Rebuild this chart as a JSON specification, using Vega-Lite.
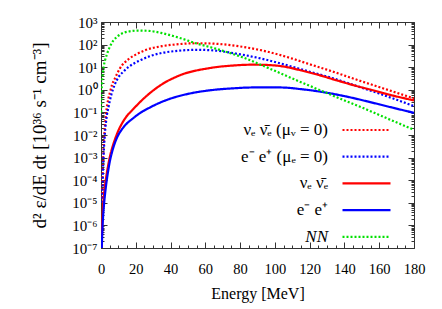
{
  "$schema": "https://vega.github.io/schema/vega-lite/v6.json",
  "width": 313,
  "height": 226,
  "autosize": {"type": "none"},
  "padding": {"left": 101, "top": 22, "right": 28, "bottom": 61},
  "background": "white",
  "config": {
    "view": {"stroke": "#333", "strokeWidth": 1},
    "font": "Liberation Serif",
    "axis": {"labelFont": "Liberation Serif", "titleFont": "Liberation Serif", "labelFontSize": 14.5, "titleFontSize": 16, "titleFontWeight": "normal", "labelColor": "black", "titleColor": "black", "tickColor": "#333", "domain": false, "grid": false, "labelOverlap": false, "labelFlush": false}
  },
  "data": {"values": [
    {"s": "νₑ ν̄ₑ (μᵥ = 0)", "E": 0.7, "v": 1.6e-5},
    {"s": "νₑ ν̄ₑ (μᵥ = 0)", "E": 1, "v": 2.5e-4},
    {"s": "νₑ ν̄ₑ (μᵥ = 0)", "E": 1.5, "v": 2.5e-3},
    {"s": "νₑ ν̄ₑ (μᵥ = 0)", "E": 2, "v": 0.0126},
    {"s": "νₑ ν̄ₑ (μᵥ = 0)", "E": 3, "v": 0.1},
    {"s": "νₑ ν̄ₑ (μᵥ = 0)", "E": 4.2, "v": 0.4},
    {"s": "νₑ ν̄ₑ (μᵥ = 0)", "E": 5.2, "v": 0.8},
    {"s": "νₑ ν̄ₑ (μᵥ = 0)", "E": 6.5, "v": 1.8},
    {"s": "νₑ ν̄ₑ (μᵥ = 0)", "E": 8, "v": 3.2},
    {"s": "νₑ ν̄ₑ (μᵥ = 0)", "E": 10.9, "v": 8.9},
    {"s": "νₑ ν̄ₑ (μᵥ = 0)", "E": 15.7, "v": 22.4},
    {"s": "νₑ ν̄ₑ (μᵥ = 0)", "E": 20, "v": 36},
    {"s": "νₑ ν̄ₑ (μᵥ = 0)", "E": 25, "v": 55},
    {"s": "νₑ ν̄ₑ (μᵥ = 0)", "E": 35, "v": 85},
    {"s": "νₑ ν̄ₑ (μᵥ = 0)", "E": 45, "v": 105},
    {"s": "νₑ ν̄ₑ (μᵥ = 0)", "E": 55, "v": 115},
    {"s": "νₑ ν̄ₑ (μᵥ = 0)", "E": 65, "v": 110},
    {"s": "νₑ ν̄ₑ (μᵥ = 0)", "E": 80, "v": 83},
    {"s": "νₑ ν̄ₑ (μᵥ = 0)", "E": 95, "v": 50},
    {"s": "νₑ ν̄ₑ (μᵥ = 0)", "E": 110, "v": 24},
    {"s": "νₑ ν̄ₑ (μᵥ = 0)", "E": 120, "v": 13.5},
    {"s": "νₑ ν̄ₑ (μᵥ = 0)", "E": 133, "v": 6.5},
    {"s": "νₑ ν̄ₑ (μᵥ = 0)", "E": 145, "v": 3.16},
    {"s": "νₑ ν̄ₑ (μᵥ = 0)", "E": 160, "v": 1.32},
    {"s": "νₑ ν̄ₑ (μᵥ = 0)", "E": 170, "v": 0.74},
    {"s": "νₑ ν̄ₑ (μᵥ = 0)", "E": 180, "v": 0.417},

    {"s": "e⁻ e⁺ (μₑ = 0)", "E": 0.8, "v": 1e-5},
    {"s": "e⁻ e⁺ (μₑ = 0)", "E": 1, "v": 1e-4},
    {"s": "e⁻ e⁺ (μₑ = 0)", "E": 1.5, "v": 1.26e-3},
    {"s": "e⁻ e⁺ (μₑ = 0)", "E": 2, "v": 6.3e-3},
    {"s": "e⁻ e⁺ (μₑ = 0)", "E": 3, "v": 0.045},
    {"s": "e⁻ e⁺ (μₑ = 0)", "E": 4.5, "v": 0.2},
    {"s": "e⁻ e⁺ (μₑ = 0)", "E": 6, "v": 0.63},
    {"s": "e⁻ e⁺ (μₑ = 0)", "E": 8, "v": 1.78},
    {"s": "e⁻ e⁺ (μₑ = 0)", "E": 10, "v": 3.55},
    {"s": "e⁻ e⁺ (μₑ = 0)", "E": 12.8, "v": 6.3},
    {"s": "e⁻ e⁺ (μₑ = 0)", "E": 15.7, "v": 10},
    {"s": "e⁻ e⁺ (μₑ = 0)", "E": 22.4, "v": 20},
    {"s": "e⁻ e⁺ (μₑ = 0)", "E": 28.2, "v": 30.9},
    {"s": "e⁻ e⁺ (μₑ = 0)", "E": 35, "v": 42.7},
    {"s": "e⁻ e⁺ (μₑ = 0)", "E": 45, "v": 53.7},
    {"s": "e⁻ e⁺ (μₑ = 0)", "E": 55, "v": 58.9},
    {"s": "e⁻ e⁺ (μₑ = 0)", "E": 65, "v": 55},
    {"s": "e⁻ e⁺ (μₑ = 0)", "E": 80, "v": 37.2},
    {"s": "e⁻ e⁺ (μₑ = 0)", "E": 95, "v": 21.4},
    {"s": "e⁻ e⁺ (μₑ = 0)", "E": 110, "v": 10.5},
    {"s": "e⁻ e⁺ (μₑ = 0)", "E": 120, "v": 6.3},
    {"s": "e⁻ e⁺ (μₑ = 0)", "E": 133, "v": 3.3},
    {"s": "e⁻ e⁺ (μₑ = 0)", "E": 145, "v": 1.66},
    {"s": "e⁻ e⁺ (μₑ = 0)", "E": 160, "v": 0.68},
    {"s": "e⁻ e⁺ (μₑ = 0)", "E": 170, "v": 0.363},
    {"s": "e⁻ e⁺ (μₑ = 0)", "E": 180, "v": 0.19},

    {"s": "νₑ ν̄ₑ", "E": 0.4, "v": 1e-7},
    {"s": "νₑ ν̄ₑ", "E": 0.7, "v": 1e-6},
    {"s": "νₑ ν̄ₑ", "E": 1.0, "v": 4e-6},
    {"s": "νₑ ν̄ₑ", "E": 1.5, "v": 1.4e-5},
    {"s": "νₑ ν̄ₑ", "E": 2, "v": 3.5e-5},
    {"s": "νₑ ν̄ₑ", "E": 3, "v": 1.4e-4},
    {"s": "νₑ ν̄ₑ", "E": 4, "v": 4e-4},
    {"s": "νₑ ν̄ₑ", "E": 5, "v": 1e-3},
    {"s": "νₑ ν̄ₑ", "E": 6.5, "v": 2.8e-3},
    {"s": "νₑ ν̄ₑ", "E": 8, "v": 6.3e-3},
    {"s": "νₑ ν̄ₑ", "E": 10, "v": 0.0158},
    {"s": "νₑ ν̄ₑ", "E": 12, "v": 0.0316},
    {"s": "νₑ ν̄ₑ", "E": 14, "v": 0.0562},
    {"s": "νₑ ν̄ₑ", "E": 18.6, "v": 0.141},
    {"s": "νₑ ν̄ₑ", "E": 23, "v": 0.316},
    {"s": "νₑ ν̄ₑ", "E": 28.2, "v": 0.724},
    {"s": "νₑ ν̄ₑ", "E": 33, "v": 1.38},
    {"s": "νₑ ν̄ₑ", "E": 37.8, "v": 2.34},
    {"s": "νₑ ν̄ₑ", "E": 42, "v": 3.39},
    {"s": "νₑ ν̄ₑ", "E": 47.3, "v": 5.0},
    {"s": "νₑ ν̄ₑ", "E": 54, "v": 6.92},
    {"s": "νₑ ν̄ₑ", "E": 60.8, "v": 8.71},
    {"s": "νₑ ν̄ₑ", "E": 68, "v": 10.5},
    {"s": "νₑ ν̄ₑ", "E": 75, "v": 11.7},
    {"s": "νₑ ν̄ₑ", "E": 86, "v": 12.9},
    {"s": "νₑ ν̄ₑ", "E": 95, "v": 12.6},
    {"s": "νₑ ν̄ₑ", "E": 105, "v": 10.7},
    {"s": "νₑ ν̄ₑ", "E": 115, "v": 7.24},
    {"s": "νₑ ν̄ₑ", "E": 125, "v": 4.57},
    {"s": "νₑ ν̄ₑ", "E": 135, "v": 2.69},
    {"s": "νₑ ν̄ₑ", "E": 145, "v": 1.62},
    {"s": "νₑ ν̄ₑ", "E": 155, "v": 1.02},
    {"s": "νₑ ν̄ₑ", "E": 165, "v": 0.631},
    {"s": "νₑ ν̄ₑ", "E": 180, "v": 0.339},

    {"s": "e⁻ e⁺", "E": 0.45, "v": 1e-7},
    {"s": "e⁻ e⁺", "E": 0.8, "v": 6.3e-7},
    {"s": "e⁻ e⁺", "E": 1.2, "v": 2.5e-6},
    {"s": "e⁻ e⁺", "E": 1.7, "v": 7.9e-6},
    {"s": "e⁻ e⁺", "E": 2.5, "v": 3.2e-5},
    {"s": "e⁻ e⁺", "E": 3.5, "v": 1.26e-4},
    {"s": "e⁻ e⁺", "E": 5, "v": 6.3e-4},
    {"s": "e⁻ e⁺", "E": 6.9, "v": 2.5e-3},
    {"s": "e⁻ e⁺", "E": 8, "v": 4.5e-3},
    {"s": "e⁻ e⁺", "E": 10, "v": 0.0102},
    {"s": "e⁻ e⁺", "E": 12, "v": 0.0178},
    {"s": "e⁻ e⁺", "E": 14, "v": 0.0275},
    {"s": "e⁻ e⁺", "E": 18.6, "v": 0.0562},
    {"s": "e⁻ e⁺", "E": 23, "v": 0.1},
    {"s": "e⁻ e⁺", "E": 28.2, "v": 0.166},
    {"s": "e⁻ e⁺", "E": 33, "v": 0.251},
    {"s": "e⁻ e⁺", "E": 37.8, "v": 0.355},
    {"s": "e⁻ e⁺", "E": 42, "v": 0.457},
    {"s": "e⁻ e⁺", "E": 47.3, "v": 0.589},
    {"s": "e⁻ e⁺", "E": 54, "v": 0.759},
    {"s": "e⁻ e⁺", "E": 60.8, "v": 0.912},
    {"s": "e⁻ e⁺", "E": 68, "v": 1.05},
    {"s": "e⁻ e⁺", "E": 75, "v": 1.15},
    {"s": "e⁻ e⁺", "E": 85, "v": 1.26},
    {"s": "e⁻ e⁺", "E": 95, "v": 1.29},
    {"s": "e⁻ e⁺", "E": 105, "v": 1.26},
    {"s": "e⁻ e⁺", "E": 115, "v": 1.07},
    {"s": "e⁻ e⁺", "E": 126, "v": 0.83},
    {"s": "e⁻ e⁺", "E": 140, "v": 0.525},
    {"s": "e⁻ e⁺", "E": 153, "v": 0.309},
    {"s": "e⁻ e⁺", "E": 165, "v": 0.182},
    {"s": "e⁻ e⁺", "E": 180, "v": 0.0955},

    {"s": "NN", "E": 0.1, "v": 0.1},
    {"s": "NN", "E": 0.3, "v": 0.63},
    {"s": "NN", "E": 0.6, "v": 2.24},
    {"s": "NN", "E": 1, "v": 5.0},
    {"s": "NN", "E": 1.6, "v": 11.2},
    {"s": "NN", "E": 2.3, "v": 20},
    {"s": "NN", "E": 3.3, "v": 35.5},
    {"s": "NN", "E": 4.5, "v": 63},
    {"s": "NN", "E": 5.5, "v": 93},
    {"s": "NN", "E": 7, "v": 148},
    {"s": "NN", "E": 9, "v": 214},
    {"s": "NN", "E": 12, "v": 309},
    {"s": "NN", "E": 16, "v": 380},
    {"s": "NN", "E": 21.5, "v": 417},
    {"s": "NN", "E": 27, "v": 407},
    {"s": "NN", "E": 35, "v": 324},
    {"s": "NN", "E": 45, "v": 200},
    {"s": "NN", "E": 55, "v": 112},
    {"s": "NN", "E": 66, "v": 66},
    {"s": "NN", "E": 76, "v": 38},
    {"s": "NN", "E": 81, "v": 28.2},
    {"s": "NN", "E": 86, "v": 20},
    {"s": "NN", "E": 92, "v": 12.6},
    {"s": "NN", "E": 100, "v": 6.9},
    {"s": "NN", "E": 114, "v": 2.34},
    {"s": "NN", "E": 127, "v": 0.89},
    {"s": "NN", "E": 140, "v": 0.339},
    {"s": "NN", "E": 153, "v": 0.132},
    {"s": "NN", "E": 165, "v": 0.0525},
    {"s": "NN", "E": 180, "v": 0.017}
  ]},
  "layer": [
    {
      "mark": {"type": "line", "strokeWidth": 2.2, "interpolate": "monotone", "clip": true},
      "encoding": {
        "x": {"field": "E", "type": "quantitative", "scale": {"domain": [0, 180], "nice": false},
          "axis": {"title": "Energy [MeV]", "orient": "bottom", "titlePadding": 7,
            "values": [0,5,10,15,20,25,30,35,40,45,50,55,60,65,70,75,80,85,90,95,100,105,110,115,120,125,130,135,140,145,150,155,160,165,170,175,180],
            "labelExpr": "datum.value % 20 == 0 ? datum.label : ''",
            "tickSize": {"condition": {"test": "datum.value % 20 == 0", "value": -6}, "value": -3},
            "labelPadding": 20}},
        "y": {"field": "v", "type": "quantitative", "scale": {"type": "log", "domain": [1e-7, 1000], "nice": false},
          "axis": {"title": "d² ε/dE dt [10³⁶ s⁻¹ cm⁻³]", "orient": "left", "titlePadding": 22, "titleFontSize": 19,
            "values": [1e-7,2e-7,3e-7,4e-7,5e-7,6e-7,7e-7,8e-7,9e-7,1e-6,2e-6,3e-6,4e-6,5e-6,6e-6,7e-6,8e-6,9e-6,1e-5,2e-5,3e-5,4e-5,5e-5,6e-5,7e-5,8e-5,9e-5,1e-4,2e-4,3e-4,4e-4,5e-4,6e-4,7e-4,8e-4,9e-4,1e-3,2e-3,3e-3,4e-3,5e-3,6e-3,7e-3,8e-3,9e-3,0.01,0.02,0.03,0.04,0.05,0.06,0.07,0.08,0.09,0.1,0.2,0.3,0.4,0.5,0.6,0.7,0.8,0.9,1,2,3,4,5,6,7,8,9,10,20,30,40,50,60,70,80,90,100,200,300,400,500,600,700,800,900,1000],
            "labelExpr": "abs(log(datum.value)/LN10 - round(log(datum.value)/LN10)) < 0.001 ? '10' + ['⁻⁷','⁻⁶','⁻⁵','⁻⁴','⁻³','⁻²','⁻¹','⁰','¹','²','³'][round(log(datum.value)/LN10)+7] : ''",
            "labelFontSize": 15,
            "tickSize": {"condition": {"test": "abs(log(datum.value)/LN10 - round(log(datum.value)/LN10)) < 0.001", "value": -6}, "value": -3},
            "labelPadding": 10}},
        "color": {"field": "s", "type": "nominal",
          "scale": {"domain": ["νₑ ν̄ₑ (μᵥ = 0)", "e⁻ e⁺ (μₑ = 0)", "νₑ ν̄ₑ", "e⁻ e⁺", "NN"], "range": ["#ff0000", "#0000ff", "#ff0000", "#0000ff", "#00e000"]},
          "legend": {"title": null, "orient": "none", "legendX": 240, "legendY": 100.5, "padding": 0,
            "symbolType": "stroke", "symbolSize": 2304, "symbolStrokeWidth": 2.2, "clipHeight": 15,
            "labelAlign": "right", "labelOffset": -64, "labelFont": "Liberation Serif", "labelFontSize": 17, "labelColor": "black", "labelLimit": 300,
            "rowPadding": 8.7,
            "encode": {"labels": {"update": {"fontStyle": {"signal": "datum.label == 'NN' ? 'italic' : 'normal'"}}},
                       "entries": {"update": {"width": {"value": 60}, "height": {"value": 15}}}}}},
        "strokeDash": {"field": "s", "type": "nominal",
          "scale": {"domain": ["νₑ ν̄ₑ (μᵥ = 0)", "e⁻ e⁺ (μₑ = 0)", "νₑ ν̄ₑ", "e⁻ e⁺", "NN"], "range": [[2, 2], [2, 2], [1, 0], [1, 0], [2, 2]]},
          "legend": {"title": null, "orient": "none", "legendX": 240, "legendY": 100.5, "padding": 0,
            "symbolType": "stroke", "symbolSize": 2304, "symbolStrokeWidth": 2.2, "clipHeight": 15,
            "labelAlign": "right", "labelOffset": -64, "labelFont": "Liberation Serif", "labelFontSize": 17, "labelColor": "black", "labelLimit": 300,
            "rowPadding": 8.7,
            "encode": {"labels": {"update": {"fontStyle": {"signal": "datum.label == 'NN' ? 'italic' : 'normal'"}}},
                       "entries": {"update": {"width": {"value": 60}, "height": {"value": 15}}}}}}
      }
    },
    {
      "mark": {"type": "line", "opacity": 0},
      "encoding": {
        "x": {"field": "E", "type": "quantitative",
          "axis": {"title": null, "orient": "top", "labels": false,
            "values": [0,5,10,15,20,25,30,35,40,45,50,55,60,65,70,75,80,85,90,95,100,105,110,115,120,125,130,135,140,145,150,155,160,165,170,175,180],
            "tickSize": {"condition": {"test": "datum.value % 20 == 0", "value": -6}, "value": -3}}},
        "y": {"field": "v", "type": "quantitative",
          "axis": {"title": null, "orient": "right", "labels": false,
            "values": [1e-7,2e-7,3e-7,4e-7,5e-7,6e-7,7e-7,8e-7,9e-7,1e-6,2e-6,3e-6,4e-6,5e-6,6e-6,7e-6,8e-6,9e-6,1e-5,2e-5,3e-5,4e-5,5e-5,6e-5,7e-5,8e-5,9e-5,1e-4,2e-4,3e-4,4e-4,5e-4,6e-4,7e-4,8e-4,9e-4,1e-3,2e-3,3e-3,4e-3,5e-3,6e-3,7e-3,8e-3,9e-3,0.01,0.02,0.03,0.04,0.05,0.06,0.07,0.08,0.09,0.1,0.2,0.3,0.4,0.5,0.6,0.7,0.8,0.9,1,2,3,4,5,6,7,8,9,10,20,30,40,50,60,70,80,90,100,200,300,400,500,600,700,800,900,1000],
            "tickSize": {"condition": {"test": "abs(log(datum.value)/LN10 - round(log(datum.value)/LN10)) < 0.001", "value": -6}, "value": -3}}},
        "detail": {"field": "s", "type": "nominal"}
      }
    }
  ],
  "resolve": {"axis": {"x": "independent", "y": "independent"}}
}
